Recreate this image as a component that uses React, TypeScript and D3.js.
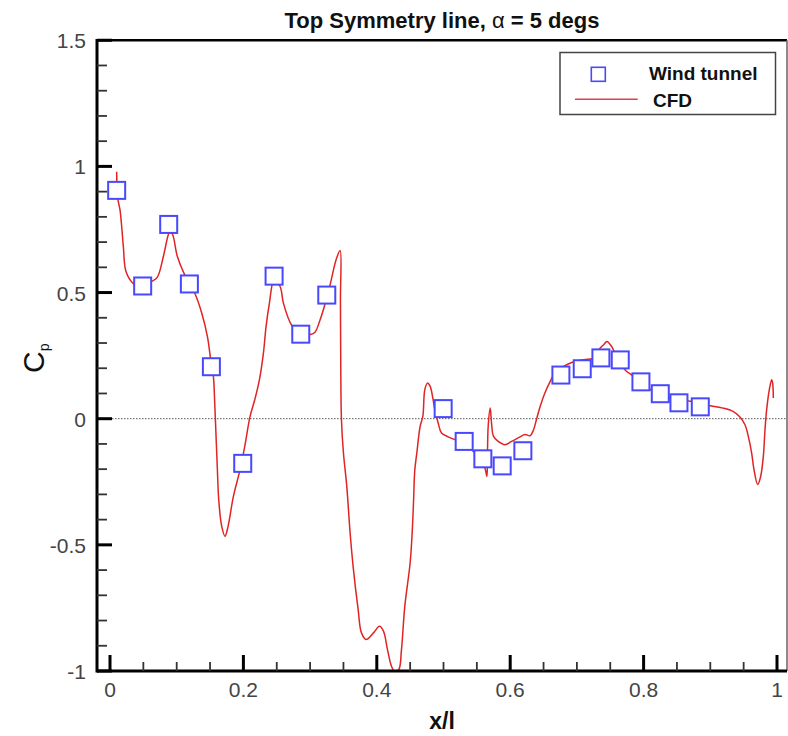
import React from "react";
import * as d3 from "d3";

const windX = [0.01, 0.049, 0.088, 0.119, 0.152, 0.199, 0.246, 0.286, 0.325, 0.4995, 0.531, 0.559, 0.588, 0.619, 0.676, 0.708, 0.736, 0.765, 0.796, 0.825, 0.853, 0.885];
const windCp = [0.905, 0.526, 0.77, 0.534, 0.206, -0.177, 0.565, 0.335, 0.49, 0.04, -0.09, -0.159, -0.187, -0.127, 0.173, 0.198, 0.241, 0.233, 0.146, 0.099, 0.063, 0.047];

const cfdX = [
  0.010, 0.0115, 0.015, 0.0175, 0.020, 0.024, 0.035, 0.045, 0.0625, 0.071, 0.080, 0.0874, 0.090, 0.094, 0.101, 0.112, 0.127, 0.1375, 0.146, 0.151,
  0.155, 0.157, 0.159, 0.161, 0.163, 0.1675, 0.1724, 0.177, 0.185, 0.195, 0.202, 0.210, 0.217, 0.224, 0.230, 0.234, 0.239, 0.246, 0.255, 0.260,
  0.272, 0.285, 0.299, 0.307, 0.315, 0.322, 0.330, 0.339, 0.345, 0.3455, 0.346, 0.347, 0.350, 0.355, 0.360, 0.365, 0.372, 0.377, 0.384, 0.395,
  0.404, 0.410, 0.416, 0.422, 0.427, 0.433, 0.437, 0.442, 0.450, 0.453, 0.455, 0.457, 0.460, 0.465, 0.469, 0.472, 0.476, 0.480, 0.484, 0.487,
  0.492, 0.497, 0.507, 0.517, 0.531, 0.542, 0.547, 0.562, 0.565, 0.566, 0.567, 0.570, 0.572, 0.575, 0.582, 0.592, 0.602, 0.615, 0.622, 0.630,
  0.635, 0.640, 0.645, 0.652, 0.660, 0.667, 0.680, 0.692, 0.710, 0.725, 0.735, 0.740, 0.745, 0.752, 0.756, 0.772, 0.785, 0.810, 0.840, 0.870,
  0.900, 0.919, 0.934, 0.9445, 0.952, 0.957, 0.962, 0.9655, 0.971, 0.9755, 0.9795, 0.982, 0.9845, 0.9885, 0.992, 0.9935, 0.9945,
];
const cfdCp = [
  0.979, 0.875, 0.828, 0.762, 0.682, 0.583, 0.535, 0.523, 0.544, 0.561, 0.643, 0.729, 0.742, 0.729, 0.643, 0.570, 0.498, 0.419, 0.326, 0.234,
  0.168, 0.062, -0.070, -0.202, -0.321, -0.427, -0.466, -0.427, -0.308, -0.202, -0.110, 0.009, 0.075, 0.154, 0.260, 0.366, 0.458, 0.55, 0.524, 0.458,
  0.372, 0.337, 0.333, 0.342, 0.392, 0.451, 0.531, 0.630, 0.667, 0.471, 0.207, -0.004, -0.136, -0.268, -0.453, -0.598, -0.756, -0.849, -0.875, -0.849,
  -0.823, -0.842, -0.915, -0.981, -1.002, -0.994, -0.915, -0.743, -0.571, -0.453, -0.334, -0.202, -0.136, -0.030, 0.009, 0.115, 0.141, 0.128, 0.082, 0.036,
  -0.017, -0.057, -0.072, -0.083, -0.099, -0.123, -0.136, -0.195, -0.229, -0.123, -0.030, 0.042, -0.017, -0.070, -0.090, -0.103, -0.090, -0.072, -0.063, -0.067,
  -0.044, 0.003, 0.049, 0.102, 0.148, 0.181, 0.207, 0.223, 0.234, 0.240, 0.280, 0.293, 0.306, 0.286, 0.267, 0.194, 0.168, 0.115, 0.082, 0.069,
  0.051, 0.042, 0.029, 0.007, -0.024, -0.070, -0.136, -0.202, -0.261, -0.229, -0.149, -0.044, 0.036, 0.115, 0.154, 0.141, 0.082,
];

const xMajor = [0, 0.2, 0.4, 0.6, 0.8, 1];
const xMajorLabels = ["0", "0.2", "0.4", "0.6", "0.8", "1"];
const yMajor = [-1, -0.5, 0, 0.5, 1, 1.5];
const yMajorLabels = ["-1", "-0.5", "0", "0.5", "1", "1.5"];

const W = 788;
const H = 736;
const left = 97;
const right = 787;
const top = 40.25;
const bottom = 671;

export default function App() {
  const x = d3.scaleLinear().domain([0, 1]).range([110, 777]);
  const y = d3.scaleLinear().domain([-1, 1.5]).range([bottom, top]);

  const xMinor = d3.range(0, 1.0001, 0.05).filter((v) => Math.abs(v * 5 - Math.round(v * 5)) > 1e-6);
  const yMinor = d3.range(-1, 1.5001, 0.1).filter((v) => Math.abs(v * 2 - Math.round(v * 2)) > 1e-6);

  const cfd = cfdX.map((v, i) => [v, cfdCp[i]] as [number, number]);
  const line = d3
    .line<[number, number]>()
    .x((d) => x(d[0]))
    .y((d) => y(d[1]))
    .curve(d3.curveCatmullRom.alpha(0.5));

  const ms = 17;
  const font = "'Liberation Sans', Arial, Helvetica, sans-serif";

  return (
    <svg width={W} height={H} style={{ position: "absolute", left: 0, top: 0, background: "#fff" }} fontFamily={font}>
      <defs>
        <clipPath id="plot">
          <rect x={left} y={top - 1} width={right - left} height={bottom - top + 1} />
        </clipPath>
      </defs>
      <rect x={0} y={0} width={W} height={H} fill="#fff" />
      {/* Title */}
      <text x={442} y={28} textAnchor="middle" fontSize={22} fontWeight="bold" fill="#111">
        Top Symmetry line, <tspan fontWeight="normal">α</tspan> = 5 degs
      </text>

      {/* zero dotted line */}
      <line x1={left} x2={right} y1={y(0)} y2={y(0)} stroke="#555" strokeWidth={1} strokeDasharray="1.5,1.5" />

      {/* CFD line */}
      <path d={line(cfd) || ""} fill="none" stroke="#e02424" strokeWidth={1.5} clipPath="url(#plot)" />

      {/* Wind tunnel markers */}
      {windX.map((v, i) => (
        <rect
          key={i}
          x={x(v) - ms / 2}
          y={y(windCp[i]) - ms / 2}
          width={ms}
          height={ms}
          fill="#fff"
          stroke="#4848ff"
          strokeWidth={2}
        />
      ))}

      {/* frame */}
      <line x1={left} x2={right} y1={top} y2={top} stroke="#000" strokeWidth={2.5} />
      <line x1={right} x2={right} y1={top} y2={bottom} stroke="#666" strokeWidth={1.5} />
      <line x1={left} x2={left} y1={top - 1.25} y2={bottom + 1.5} stroke="#000" strokeWidth={3} />
      <line x1={left} x2={right} y1={bottom} y2={bottom} stroke="#000" strokeWidth={3} />

      {/* y ticks */}
      {yMinor.map((v, i) => (
        <line key={"ym" + i} x1={left} x2={left + 10} y1={y(v)} y2={y(v)} stroke="#333" strokeWidth={1.8} />
      ))}
      {yMajor.map((v, i) => (
        <line key={"yM" + i} x1={left} x2={left + 15} y1={y(v)} y2={y(v)} stroke="#000" strokeWidth={3} />
      ))}
      {yMajor.map((v, i) => (
        <text key={"yl" + i} x={86} y={y(v) + 8} textAnchor="end" fontSize={21} fill="#444">
          {yMajorLabels[i]}
        </text>
      ))}

      {/* x ticks */}
      {xMinor.map((v, i) => (
        <line key={"xm" + i} x1={x(v)} x2={x(v)} y1={bottom} y2={bottom - 9} stroke="#333" strokeWidth={1.8} />
      ))}
      {xMajor.map((v, i) => (
        <line key={"xM" + i} x1={x(v)} x2={x(v)} y1={bottom} y2={bottom - 16} stroke="#000" strokeWidth={3} />
      ))}
      {xMajor.map((v, i) => (
        <text key={"xl" + i} x={x(v)} y={697} textAnchor="middle" fontSize={21} fill="#444">
          {xMajorLabels[i]}
        </text>
      ))}

      {/* axis labels */}
      <text x={442} y={729} textAnchor="middle" fontSize={23} fontWeight="bold" fill="#111">
        x/l
      </text>
      <text transform="translate(43.5,373) rotate(-90)" fontSize={30} fill="#111">
        C<tspan dy={5} fontSize={14}>p</tspan>
      </text>

      {/* legend */}
      <rect x={560} y={52.5} width={215.5} height={62} fill="#fff" stroke="#444" strokeWidth={1.5} />
      <rect x={598.3 - 7} y={74.3 - 7} width={14} height={14} fill="#fff" stroke="#4848ff" strokeWidth={1.6} />
      <text x={649} y={80} fontSize={19} fontWeight="bold" fill="#111">
        Wind tunnel
      </text>
      <line x1={575} x2={637.7} y1={99.3} y2={99.3} stroke="#e04040" strokeWidth={1.5} />
      <text x={653} y={106.7} fontSize={19} fontWeight="bold" fill="#111">
        CFD
      </text>
    </svg>
  );
}
